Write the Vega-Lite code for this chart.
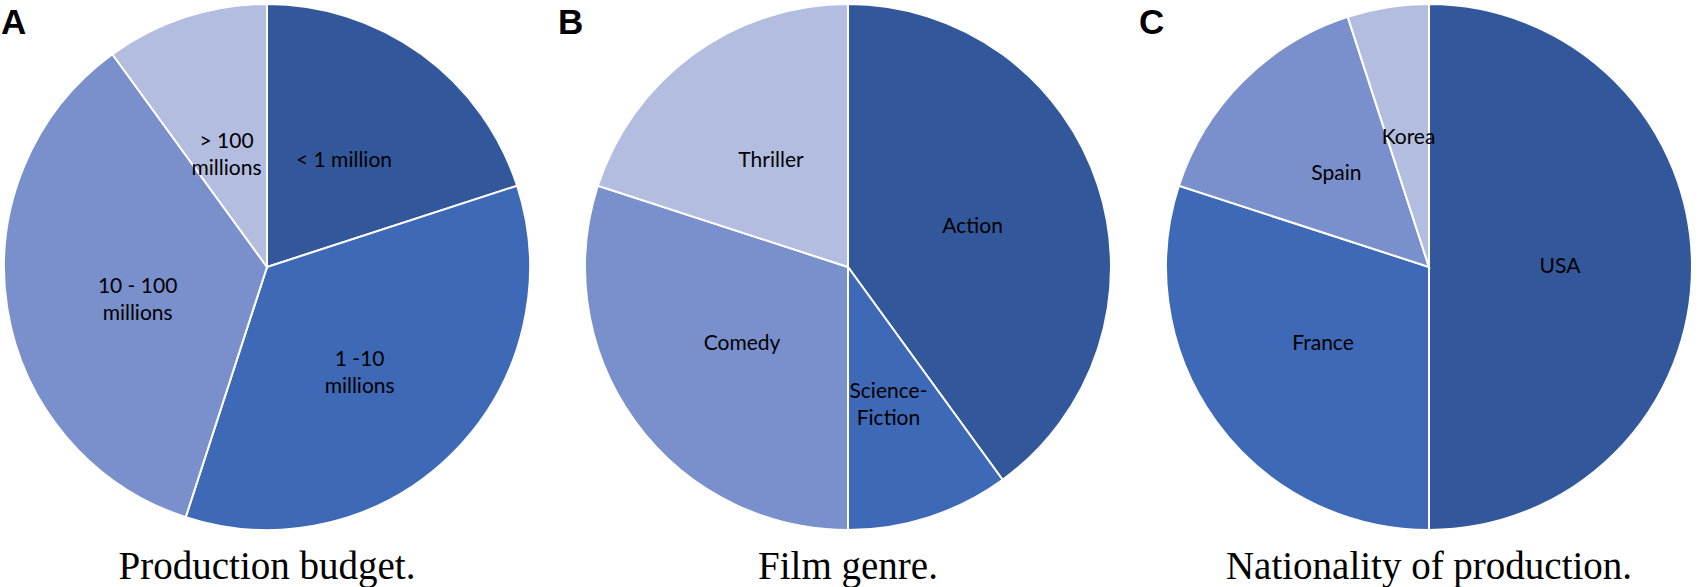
{
  "$schema": "https://vega.github.io/schema/vega-lite/v6.json",
  "background": "white",
  "padding": 0,
  "spacing": 24,
  "data": {
    "values": [
      {"panel": "A", "label": "< 1 million", "share": 20, "rank": 1},
      {"panel": "A", "label": "1 -10\nmillions", "share": 35, "rank": 2},
      {"panel": "A", "label": "10 - 100\nmillions", "share": 35, "rank": 3},
      {"panel": "A", "label": "> 100\nmillions", "share": 10, "rank": 4},
      {"panel": "B", "label": "Action", "share": 40, "rank": 1},
      {"panel": "B", "label": "Science-\nFiction", "share": 10, "rank": 2},
      {"panel": "B", "label": "Comedy", "share": 30, "rank": 3},
      {"panel": "B", "label": "Thriller", "share": 20, "rank": 4},
      {"panel": "C", "label": "USA", "share": 50, "rank": 1},
      {"panel": "C", "label": "France", "share": 30, "rank": 2},
      {"panel": "C", "label": "Spain", "share": 15, "rank": 3},
      {"panel": "C", "label": "Korea", "share": 5, "rank": 4}
    ]
  },
  "hconcat": [
    {
      "title": {"text": "A", "orient": "top", "anchor": "start", "offset": -41, "dx": 1, "font": "Liberation Sans", "fontSize": 35, "fontWeight": "bold", "color": "black"},
      "vconcat": [
        {
          "width": 526,
          "height": 526,
          "title": {"text": "Production budget.", "orient": "bottom", "anchor": "middle", "baseline": "alphabetic", "offset": 45, "font": "Liberation Serif", "fontSize": 39, "fontWeight": "normal", "color": "black"},
          "transform": [{"filter": "datum.panel == 'A'"}],
          "encoding": {
            "theta": {"field": "share", "type": "quantitative", "stack": true},
            "order": {"field": "rank", "type": "ordinal"},
            "color": {"field": "rank", "type": "ordinal", "legend": null, "scale": {"domain": [1, 2, 3, 4], "range": ["#32589b", "#3e69b6", "#7990cc", "#b3bde0"]}}
          },
          "layer": [
            {"mark": {"type": "arc", "stroke": "white", "strokeWidth": 2}},
            {"mark": {"type": "text", "radius": 131, "font": "Lato", "fontSize": 21, "lineBreak": "\n", "lineHeight": 27, "align": "center", "baseline": "middle"}, "encoding": {"text": {"field": "label", "type": "nominal"}, "color": {"value": "black"}, "detail": {"field": "rank", "type": "ordinal"}}}
          ]
        }
      ]
    },
    {
      "title": {"text": "B", "orient": "top", "anchor": "start", "offset": -41, "dx": -23, "font": "Liberation Sans", "fontSize": 35, "fontWeight": "bold", "color": "black"},
      "vconcat": [
        {
          "width": 526,
          "height": 526,
          "title": {"text": "Film genre.", "orient": "bottom", "anchor": "middle", "baseline": "alphabetic", "offset": 45, "font": "Liberation Serif", "fontSize": 39, "fontWeight": "normal", "color": "black"},
          "transform": [{"filter": "datum.panel == 'B'"}],
          "encoding": {
            "theta": {"field": "share", "type": "quantitative", "stack": true},
            "order": {"field": "rank", "type": "ordinal"},
            "color": {"field": "rank", "type": "ordinal", "legend": null, "scale": {"domain": [1, 2, 3, 4], "range": ["#32589b", "#3e69b6", "#7990cc", "#b3bde0"]}}
          },
          "layer": [
            {"mark": {"type": "arc", "stroke": "white", "strokeWidth": 2}},
            {"mark": {"type": "text", "radius": 131, "font": "Lato", "fontSize": 21, "lineBreak": "\n", "lineHeight": 27, "align": "center", "baseline": "middle"}, "encoding": {"text": {"field": "label", "type": "nominal"}, "color": {"value": "black"}, "detail": {"field": "rank", "type": "ordinal"}}}
          ]
        }
      ]
    },
    {
      "title": {"text": "C", "orient": "top", "anchor": "start", "offset": -41, "dx": -23, "font": "Liberation Sans", "fontSize": 35, "fontWeight": "bold", "color": "black"},
      "vconcat": [
        {
          "width": 526,
          "height": 526,
          "title": {"text": "Nationality of production.", "orient": "bottom", "anchor": "middle", "baseline": "alphabetic", "offset": 45, "font": "Liberation Serif", "fontSize": 39, "fontWeight": "normal", "color": "black"},
          "transform": [{"filter": "datum.panel == 'C'"}],
          "encoding": {
            "theta": {"field": "share", "type": "quantitative", "stack": true},
            "order": {"field": "rank", "type": "ordinal"},
            "color": {"field": "rank", "type": "ordinal", "legend": null, "scale": {"domain": [1, 2, 3, 4], "range": ["#32589b", "#3e69b6", "#7990cc", "#b3bde0"]}}
          },
          "layer": [
            {"mark": {"type": "arc", "stroke": "white", "strokeWidth": 2}},
            {"mark": {"type": "text", "radius": 131, "font": "Lato", "fontSize": 21, "lineBreak": "\n", "lineHeight": 27, "align": "center", "baseline": "middle"}, "encoding": {"text": {"field": "label", "type": "nominal"}, "color": {"value": "black"}, "detail": {"field": "rank", "type": "ordinal"}}}
          ]
        }
      ]
    }
  ],
  "config": {
    "view": {"stroke": null}
  }
}
